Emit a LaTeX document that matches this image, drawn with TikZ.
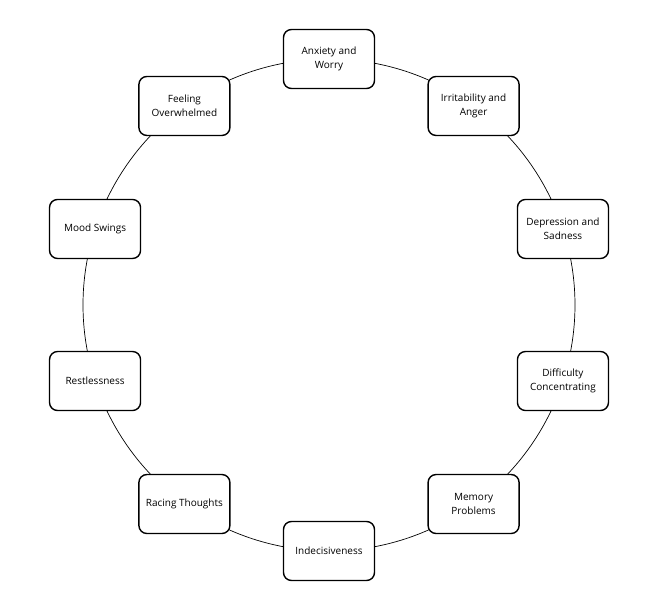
\documentclass[tikz,border=0pt]{standalone}
\usepackage{fontspec}
\setmainfont{Open Sans}
\usepackage{tikz}
\usetikzlibrary{arrows.meta,positioning,calc,backgrounds}
\tikzset{every node/.append style={align=center}}
\tikzset{
  symptom/.style={draw, line width=1.4pt, rounded corners=8pt, fill=white,
    minimum width=91pt, minimum height=59pt, inner sep=2pt,
    font=\fontsize{10}{13.5}\selectfont},
  ring/.style={draw, line width=0.7pt}
}

\begin{document}
\begin{tikzpicture}[x=1pt,y=1pt]
  \useasboundingbox (-329,-302) rectangle (319,305);
  % symptoms around the circle, clockwise from the top
  \foreach \i/\t in {0/{Anxiety and\\Worry},1/{Irritability and\\Anger},2/{Depression and\\Sadness},3/{Difficulty\\Concentrating},4/{Memory\\Problems},5/{Indecisiveness},6/{Racing Thoughts},7/{Restlessness},8/{Mood Swings},9/{Feeling\\Overwhelmed}}
    \node[symptom] (s\i) at ({90-36*\i}:246) {\t};
  % ring links, arc from one box to the next
  \begin{scope}[on background layer]
    \foreach \i in {0,...,9}
      \draw[ring] (s\i.center) arc[start angle={90-36*\i}, end angle={54-36*\i}, radius=246];
  \end{scope}
\end{tikzpicture}
\end{document}
